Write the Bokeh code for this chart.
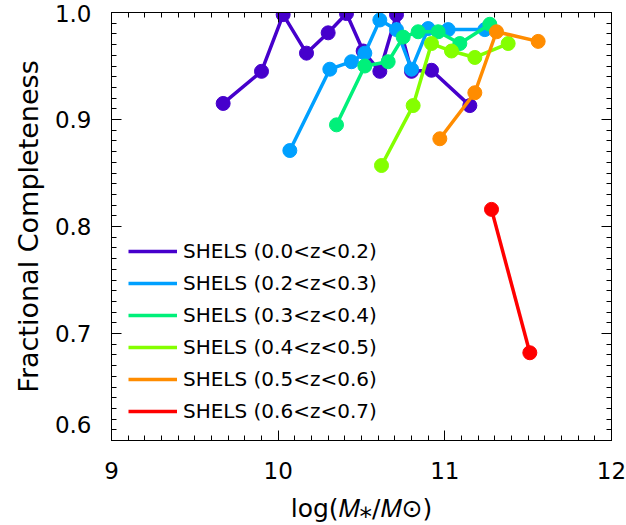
import numpy as np
from bokeh.plotting import figure
from bokeh.models import (Range1d, LinearAxis, FixedTicker, PrintfTickFormatter,
                          Legend, LegendItem)
from bokeh.embed import file_html
from bokeh.resources import INLINE

# ---------------- data ----------------
labels = ["SHELS (0.0<z<0.2)", "SHELS (0.2<z<0.3)", "SHELS (0.3<z<0.4)",
          "SHELS (0.4<z<0.5)", "SHELS (0.5<z<0.6)", "SHELS (0.6<z<0.7)"]
colors = ["#4600CC", "#00A0FF", "#00F07A", "#84FF00", "#FF8C00", "#FF0000"]

z1_x = [9.67, 9.90, 10.03, 10.17, 10.30, 10.41, 10.51, 10.61, 10.71, 10.80, 10.92, 11.15]
z1_y = [0.915, 0.945, 0.998, 0.962, 0.981, 0.999, 0.964, 0.945, 0.998, 0.945, 0.946, 0.913]

z2_x = [10.07, 10.31, 10.44, 10.52, 10.61, 10.71, 10.80, 10.90, 11.02, 11.24]
z2_y = [0.871, 0.947, 0.954, 0.962, 0.993, 0.984, 0.947, 0.985, 0.984, 0.984]

z3_x = [10.35, 10.52, 10.66, 10.75, 10.84, 10.96, 11.09, 11.27]
z3_y = [0.895, 0.950, 0.954, 0.977, 0.982, 0.982, 0.971, 0.989]

z4_x = [10.62, 10.81, 10.92, 11.04, 11.18, 11.38]
z4_y = [0.857, 0.913, 0.971, 0.964, 0.958, 0.971]

z5_x = [10.97, 11.18, 11.31, 11.56]
z5_y = [0.882, 0.925, 0.982, 0.973]

z6_x = [11.28, 11.51]
z6_y = [0.816, 0.682]

x_ticks = [9, 10, 11, 12]
y_ticks = [0.6, 0.7, 0.8, 0.9, 1.0]

series = [(z1_x, z1_y), (z2_x, z2_y), (z3_x, z3_y),
          (z4_x, z4_y), (z5_x, z5_y), (z6_x, z6_y)]

# ---------------- figure ----------------
FONT = "DejaVu Sans"
p = figure(width=626, height=525, output_backend="svg", toolbar_location=None,
           x_range=Range1d(9, 12), y_range=Range1d(0.6, 1.0),
           min_border_left=111, min_border_right=15, min_border_top=12,
           min_border_bottom=82, background_fill_color="white",
           border_fill_color="white")
p.xgrid.visible = False
p.ygrid.visible = False
p.outline_line_color = "black"
p.outline_line_width = 1

x_minor = [round(v, 2) for v in np.arange(9.0, 12.001, 0.1)]
y_minor = [round(v, 3) for v in np.arange(0.6, 1.0001, 0.01)]


def style_axis(ax, ticks, minor, fmt, show_labels):
    ax.ticker = FixedTicker(ticks=ticks, minor_ticks=minor)
    ax.formatter = PrintfTickFormatter(format=fmt)
    ax.major_tick_in = 10
    ax.major_tick_out = 0
    ax.minor_tick_in = 5
    ax.minor_tick_out = 0
    ax.axis_line_color = "black"
    ax.major_tick_line_color = "black"
    ax.minor_tick_line_color = "black"
    ax.major_label_text_font = FONT
    ax.major_label_text_color = "black"
    ax.major_label_text_font_size = "23px"
    if not show_labels:
        ax.major_label_text_color = None
        ax.major_label_text_font_size = "1px"
        ax.major_label_standoff = 0


style_axis(p.xaxis[0], x_ticks, x_minor, "%d", True)
style_axis(p.yaxis[0], y_ticks, y_minor, "%.1f", True)
p.xaxis[0].major_label_standoff = 21
p.yaxis[0].major_label_standoff = 20
# lift the bottom label inside the box, as in the reference
p.yaxis[0].major_label_overrides = {0.6: "0.6\n"}

p.yaxis[0].axis_label = "Fractional Completeness"
p.yaxis[0].axis_label_text_font = FONT
p.yaxis[0].axis_label_text_font_style = "normal"
p.yaxis[0].axis_label_text_font_size = "27px"
p.yaxis[0].axis_label_text_color = "black"
p.yaxis[0].axis_label_standoff = 8

p.xaxis[0].axis_label = "log(\U0001D440\u204E/\U0001D440\u2299)"
p.xaxis[0].axis_label_text_font = FONT
p.xaxis[0].axis_label_text_font_style = "normal"
p.xaxis[0].axis_label_text_font_size = "25px"
p.xaxis[0].axis_label_text_color = "black"
p.xaxis[0].axis_label_standoff = 12

top_ax = LinearAxis()
right_ax = LinearAxis()
style_axis(top_ax, x_ticks, x_minor, "%d", False)
style_axis(right_ax, y_ticks, y_minor, "%.1f", False)
p.add_layout(top_ax, "above")
p.add_layout(right_ax, "right")

# ---------------- series ----------------
items = []
for (xs, ys), col, lab in zip(series, colors, labels):
    r = p.line(xs, ys, line_color=col, line_width=3.5)
    p.scatter(xs, ys, size=14, fill_color=col, line_color=col, marker="circle")
    items.append(LegendItem(label=lab, renderers=[r]))

legend = Legend(items=items, location=(17, 17), padding=0, margin=0,
                spacing=8, label_height=20, glyph_height=20, glyph_width=49,
                label_standoff=6, border_line_color=None,
                background_fill_alpha=0.0, label_text_font=FONT,
                label_text_font_size="20px", label_text_color="black")
p.add_layout(legend, "center")

open("out.html", "w").write(file_html(p, INLINE))
